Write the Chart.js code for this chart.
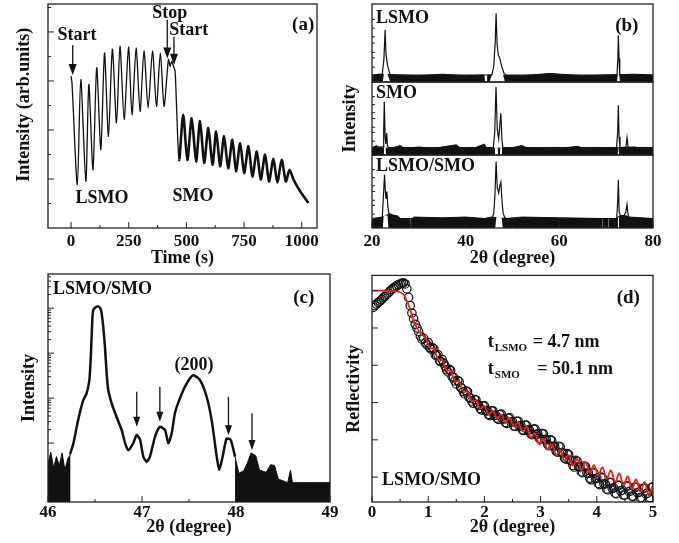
<!DOCTYPE html>
<html>
<head>
<meta charset="utf-8">
<script src="https://cdn.jsdelivr.net/npm/chart.js@4.4.0/dist/chart.umd.min.js"></script>
<style>
  body { margin: 0; background: #fff; width: 679px; height: 543px; position: relative; overflow: hidden; }
  canvas { position: absolute; }
</style>
</head>
<body>
<canvas id="ca" width="340" height="270" style="left:0;top:0"></canvas>
<canvas id="cb1" width="339" height="270" style="left:340px;top:0"></canvas>
<canvas id="cb2" width="339" height="270" style="left:340px;top:0"></canvas>
<canvas id="cb3" width="339" height="270" style="left:340px;top:0"></canvas>
<canvas id="cc" width="340" height="273" style="left:0;top:270px"></canvas>
<canvas id="cd" width="339" height="273" style="left:340px;top:270px"></canvas>
<script>
// (a) RHEED intensity vs time
const timeS = [0, 4, 27, 42, 64, 77, 95, 111, 129, 145, 162, 179, 197, 212, 230, 249, 264, 282, 299, 316,
  334, 353, 370, 387, 403, 422, 429, 436, 444, 451, 468, 486, 504, 523, 542, 559, 577, 595, 613, 629,
  646, 663, 681, 699, 715, 733, 750, 769, 786, 805, 822, 841, 858, 877, 894, 913, 931, 947, 964, 993, 1029];
const rheedInt = [3.10, 2.96, 0.88, 3.03, 0.95, 2.93, 1.19, 3.27, 1.60, 3.57, 1.87, 3.65, 2.14, 3.71, 2.21, 3.69, 2.31, 3.67, 2.38, 3.61,
  2.45, 3.61, 2.48, 3.57, 2.48, 3.44, 3.30, 3.40, 3.30, 3.20, 1.39, 2.31, 1.39, 2.24, 1.36, 2.18, 1.33, 2.04, 1.29, 1.97,
  1.26, 1.87, 1.22, 1.80, 1.16, 1.73, 1.12, 1.67, 1.05, 1.56, 0.99, 1.50, 0.95, 1.41, 0.93, 1.39, 0.95, 1.19, 0.99, 0.75, 0.51];
const timeTicks = [0, 250, 500, 750, 1000];

// (b) wide 2theta scans, three samples (relative height in each strip)
const lsmoTheta = [20, 22.2, 22.55, 22.8, 23.0, 23.3, 23.6, 23.9, 45.6, 46.0, 46.3, 46.5, 46.7, 46.95, 47.3, 47.7, 48.2, 48.6, 72.3, 72.5, 72.6, 72.75, 72.9, 80];
const lsmoInt = [0.09, 0.10, 0.30, 0.67, 0.35, 0.22, 0.15, 0.09, 0.09, 0.20, 0.50, 0.88, 0.50, 0.35, 0.30, 0.20, 0.11, 0.09, 0.09, 0.30, 0.60, 0.30, 0.09, 0.09];
const lsmoClearTheta = [22.28, 22.6, 23.2, 23.9, 30, 45.1, 45.9, 47.7, 48.4, 60, 72.3, 72.5, 72.75, 72.95];
const lsmoClearInt = [0, 0.12, 0.12, 0, null, 0, 0.15, 0.15, 0, null, 0, 0.11, 0.11, 0];
const lsmoFloorTheta = [20, 21.5, 26, 30, 35, 40, 43.9, 44.0, 44.6, 44.7, 52, 58, 65, 70, 76, 80];
const lsmoFloorInt = [0.08, 0.10, 0.09, 0.08, 0.10, 0.08, 0.09, 0, 0, 0.09, 0.08, 0.11, 0.08, 0.09, 0.10, 0.09];

const smoTheta = [20, 22.35, 22.5, 22.63, 22.8, 22.95, 23.13, 23.3, 23.5, 45.9, 46.2, 46.48, 46.75, 47.05, 47.3, 47.52, 47.75, 47.95,
  72.2, 72.45, 72.6, 72.75, 72.95, 74.2, 74.45, 74.7, 80];
const smoInt = [0.10, 0.11, 0.35, 0.73, 0.25, 0.15, 0.30, 0.13, 0.10, 0.10, 0.30, 0.93, 0.35, 0.22, 0.42, 0.57, 0.20, 0.10,
  0.10, 0.30, 0.68, 0.25, 0.10, 0.10, 0.24, 0.10, 0.10];
const smoClearTheta = [22.5, 22.6, 22.9, 23.0, 30, 46.2, 46.35, 46.8, 46.95, 47.1, 47.3, 47.4, 47.7, 47.8, 60, 72.45, 72.55, 72.7, 72.8];
const smoClearInt = [0, 0.12, 0.12, 0, null, 0, 0.12, 0.12, 0, null, 0, 0.12, 0.12, 0, null, 0, 0.12, 0.12, 0];
const smoFloorTheta = [20, 21, 21.6, 24, 26, 27, 30, 33, 38, 39, 42, 44, 44.5, 50, 52, 53, 60, 64, 65, 70, 76, 78, 80];
const smoFloorInt = [0.10, 0.13, 0.10, 0.09, 0.13, 0.09, 0.11, 0.09, 0.14, 0.09, 0.10, 0.15, 0.09, 0.10, 0.13, 0.10, 0.09, 0.12, 0.09, 0.10, 0.11, 0.09, 0.10];

const biTheta = [20, 22.2, 22.45, 22.68, 22.85, 22.98, 23.18, 23.38, 23.6, 24.2, 25.5, 26, 45.6, 46.0, 46.25, 46.5, 46.75, 47.05, 47.3, 47.52, 47.75, 48.0, 48.3, 48.6,
  72.25, 72.45, 72.6, 72.78, 73.1, 73.8, 74.2, 74.45, 74.7, 75.0, 80];
const biInt = [0.13, 0.15, 0.45, 0.73, 0.50, 0.40, 0.50, 0.30, 0.20, 0.18, 0.16, 0.13, 0.13, 0.20, 0.45, 0.91, 0.55, 0.48, 0.58, 0.63, 0.38, 0.20, 0.15, 0.13,
  0.13, 0.35, 0.66, 0.22, 0.16, 0.17, 0.22, 0.32, 0.17, 0.13, 0.13];
const biClearTheta = [22.3, 22.5, 23.3, 23.55, 30, 46.3, 46.6, 47.6, 47.95, 60, 72.4, 72.5, 72.7, 72.8];
const biClearInt = [0, 0.17, 0.17, 0, null, 0, 0.17, 0.17, 0, null, 0, 0.15, 0.15, 0];
const biFloorTheta = [20, 21.3, 22.2, 23.6, 25.5, 26, 28, 28.1, 28.3, 28.4, 29, 35, 40, 44, 45.5, 48.6, 52, 60, 68.9, 69, 69.2, 69.3, 70.2, 70.3, 70.5, 70.6, 72, 73, 74, 75, 80];
const biFloorInt = [0.12, 0.13, 0.15, 0.19, 0.16, 0.12, 0.12, 0, 0, 0.12, 0.15, 0.14, 0.15, 0.13, 0.15, 0.13, 0.15, 0.14, 0.13, 0, 0, 0.13, 0.13, 0, 0, 0.13, 0.13, 0.17, 0.17, 0.15, 0.13];
const wideTicks = [20, 40, 60, 80];

// (c) fine scan around (200); intensities as log10(counts)
const fineTheta = [46.234, 46.27, 46.32, 46.376, 46.41, 46.44, 46.457, 46.471, 46.482, 46.50, 46.535, 46.56, 46.571, 46.588, 46.606, 46.624, 46.641, 46.678, 46.73, 46.784,
  46.82, 46.854, 46.907, 46.944, 46.98, 47.014, 47.05, 47.085, 47.138, 47.19, 47.245, 47.28, 47.316, 47.351, 47.404, 47.476, 47.546, 47.617, 47.688, 47.741,
  47.795, 47.822, 47.858, 47.90, 47.944, 47.99];
const fineLog = [0.75, 0.99, 1.51, 1.96, 2.10, 2.40, 2.99, 3.73, 3.96, 4.01, 4.04, 3.98, 3.88, 3.58, 3.14, 2.55, 2.18, 1.88, 1.58, 1.29,
  1.00, 0.84, 1.00, 1.18, 1.07, 0.70, 0.58, 0.70, 1.14, 1.36, 1.29, 1.00, 1.22, 1.67, 2.00, 2.33, 2.51, 2.40, 2.03, 1.51,
  0.70, 0.40, 0.70, 1.10, 1.07, 0.70];
const noiseTheta = [46.0, 46.03, 46.06, 46.09, 46.12, 46.15, 46.18, 46.21, 46.24, 47.5,
  47.99, 48.03, 48.08, 48.12, 48.16, 48.21, 48.25, 48.32, 48.37, 48.41, 48.45, 48.55, 48.58, 48.60, 48.8, 49.0];
const noiseLog = [0.55, 0.80, 0.45, 0.70, 0.50, 0.78, 0.40, 0.65, 0.75, null,
  0.70, 0.33, 0.38, 0.55, 0.78, 0.72, 0.40, 0.35, 0.52, 0.50, 0.20, 0.12, 0.40, 0.12, 0.12, 0.12];
const fineTicks = [46, 47, 48, 49];
const countDecades = [10, 100, 1000, 10000];

// (d) X-ray reflectivity: measured (circles) and fit (red), log10 scale
const xrrTheta = [0.02, 0.05, 0.08, 0.11, 0.14, 0.17, 0.20, 0.23, 0.26, 0.29, 0.32, 0.35, 0.38, 0.41, 0.44, 0.47, 0.50, 0.53, 0.56, 0.59,
  0.62, 0.65, 0.68, 0.71, 0.74, 0.77, 0.80, 0.83, 0.86, 0.89, 0.92, 0.95, 0.98,
  1.00, 1.05, 1.10, 1.15, 1.20, 1.25, 1.30, 1.35, 1.40, 1.45, 1.50, 1.55, 1.60, 1.65, 1.70, 1.75, 1.80, 1.85, 1.90, 1.95,
  2.00, 2.05, 2.10, 2.15, 2.20, 2.25, 2.30, 2.35, 2.40, 2.45, 2.50, 2.55, 2.60, 2.65, 2.70, 2.75, 2.80, 2.85, 2.90, 2.95,
  3.00, 3.05, 3.10, 3.15, 3.20, 3.25, 3.30, 3.35, 3.40, 3.45, 3.50, 3.55, 3.60, 3.65, 3.70, 3.75, 3.80, 3.85, 3.90, 3.95,
  4.00, 4.05, 4.10, 4.15, 4.20, 4.25, 4.30, 4.35, 4.40, 4.45, 4.50, 4.55, 4.60, 4.65, 4.70, 4.75, 4.80, 4.85, 4.90, 4.95, 5.00];
const xrrLog = [4.55, 4.60, 4.64, 4.68, 4.72, 4.76, 4.81, 4.85, 4.90, 4.94, 4.99, 5.03, 5.07, 5.10, 5.13, 5.16, 5.18, 5.20, 5.21, 5.18,
  5.05, 4.82, 4.60, 4.40, 4.25, 4.10, 4.00, 3.90, 3.78, 3.70, 3.72, 3.60, 3.55,
  3.61, 3.43, 3.44, 3.26, 3.12, 3.15, 2.98, 2.82, 2.86, 2.68, 2.50, 2.56, 2.38, 2.23, 2.29, 2.12, 1.98, 2.07, 1.92, 1.80,
  1.91, 1.78, 1.65, 1.78, 1.66, 1.55, 1.69, 1.56, 1.44, 1.59, 1.49, 1.36, 1.50, 1.38, 1.25, 1.39, 1.27, 1.14, 1.29, 1.16,
  1.02, 1.16, 1.00, 0.84, 0.98, 0.83, 0.67, 0.81, 0.65, 0.48, 0.60, 0.44, 0.27, 0.42, 0.27, 0.12, 0.28, 0.10, -0.07, 0.11,
  -0.03, -0.20, -0.02, -0.18, -0.34, -0.15, -0.29, -0.45, -0.22, -0.35, -0.48, -0.24, -0.37, -0.52, -0.27, -0.40, -0.55, -0.29, -0.43, -0.55, -0.26];
const xrrTheta2 = [1.025, 1.075, 1.125, 1.175, 1.225, 1.275, 1.325, 1.375, 1.425, 1.475, 1.525, 1.575, 1.625, 1.675, 1.725, 1.775, 1.825, 1.875, 1.925, 1.975,
  2.025, 2.075, 2.125, 2.175, 2.225, 2.275, 2.325, 2.375, 2.425, 2.475, 2.525, 2.575, 2.625, 2.675, 2.725, 2.775, 2.825, 2.875, 2.925, 2.975,
  3.025, 3.075, 3.125, 3.175, 3.225, 3.275, 3.325, 3.375, 3.425, 3.475, 3.525, 3.575, 3.625, 3.675, 3.725, 3.775, 3.825, 3.875, 3.925, 3.975,
  4.025, 4.075, 4.125, 4.175, 4.225, 4.275, 4.325, 4.375, 4.425, 4.475, 4.525, 4.575, 4.625, 4.675, 4.725, 4.775, 4.825, 4.875, 4.925, 4.975];
const xrrLog2 = [3.47, 3.47, 3.28, 3.28, 3.10, 3.06, 2.88, 2.89, 2.69, 2.58, 2.59, 2.41, 2.29, 2.31, 2.14, 2.04, 2.08, 1.95, 1.84, 1.91,
  1.78, 1.68, 1.78, 1.65, 1.58, 1.68, 1.56, 1.46, 1.58, 1.47, 1.37, 1.50, 1.37, 1.27, 1.40, 1.26, 1.16, 1.29, 1.15, 1.04,
  1.17, 1.01, 0.88, 1.00, 0.83, 0.70, 0.83, 0.66, 0.51, 0.63, 0.45, 0.31, 0.45, 0.28, 0.14, 0.30, 0.11, -0.03, 0.13, -0.04,
  -0.17, 0.00, -0.18, -0.32, -0.14, -0.30, -0.43, -0.22, -0.37, -0.48, -0.24, -0.39, -0.51, -0.27, -0.42, -0.55, -0.30, -0.45, -0.57, -0.28];
const fitTheta = [0, 0.2, 0.4, 0.48, 0.56, 0.62, 0.68, 0.74, 0.80, 0.86, 0.95, 1.025, 1.10, 1.175, 1.25, 1.325, 1.40, 1.475, 1.55, 1.625,
  1.70, 1.775, 1.85, 1.925, 2.00, 2.075, 2.15, 2.225, 2.30, 2.375, 2.45, 2.525, 2.60, 2.675, 2.75, 2.825, 2.90, 2.975, 3.05, 3.125,
  3.20, 3.275, 3.35, 3.425, 3.50, 3.575, 3.65, 3.725, 3.80, 3.875, 3.95, 4.025, 4.10, 4.175, 4.25, 4.325, 4.40, 4.475, 4.55, 4.625,
  4.70, 4.775, 4.85, 4.925, 5.00];
const fitLog = [5.00, 5.00, 4.99, 4.97, 4.90, 4.72, 4.50, 4.19, 4.01, 3.86, 3.73, 3.47, 3.44, 3.17, 3.14, 2.87, 2.85, 2.57, 2.57, 2.29,
  2.29, 2.02, 2.06, 1.83, 1.91, 1.68, 1.78, 1.57, 1.68, 1.46, 1.59, 1.35, 1.47, 1.23, 1.35, 1.06, 1.17, 0.88, 1.03, 0.75,
  0.88, 0.59, 0.73, 0.43, 0.59, 0.31, 0.49, 0.20, 0.40, 0.12, 0.32, 0.05, 0.26, -0.04, 0.18, -0.13, 0.10, -0.22, 0.02, -0.31,
  -0.06, -0.39, -0.13, -0.48, -0.20];
const xrrTicks = [0, 1, 2, 3, 4, 5];
const xrrDecades = [1, 10, 100, 1000, 10000, 100000];

const SERIF = '"Liberation Serif", "Times New Roman", serif';
Chart.defaults.font.family = SERIF;
Chart.defaults.font.weight = 'bold';
Chart.defaults.font.size = 17;
Chart.defaults.color = '#111';
Chart.defaults.animation = false;

const pts = (xs, ys, f) => xs.map((x, i) => ({ x, y: ys[i] === null ? null : (f ? f(ys[i]) : ys[i]) }));
const pow10 = v => Math.pow(10, v);
const minorLog = decades => decades.flatMap(d => [2, 3, 4, 5, 6, 7, 8, 9].map(k => k * d));

// frame, inward ticks and in-plot labels
const panel = {
  id: 'panel',
  afterDraw(chart, args, o) {
    const { ctx, chartArea: a } = chart;
    const sx = chart.scales.x, sy = chart.scales.y;
    const seg = (x0, y0, x1, y1) => { ctx.beginPath(); ctx.moveTo(x0, y0); ctx.lineTo(x1, y1); ctx.stroke(); };
    ctx.save();
    ctx.strokeStyle = '#222';
    ctx.lineWidth = 1.3;
    ctx.strokeRect(a.left, a.top, a.right - a.left, a.bottom - a.top);
    ctx.lineWidth = 1;
    (o.xMajor || []).forEach(v => { const p = sx.getPixelForValue(v); seg(p, a.bottom, p, a.bottom - 6); });
    (o.xMinor || []).forEach(v => { const p = sx.getPixelForValue(v); seg(p, a.bottom, p, a.bottom - 3); });
    (o.yMajor || []).forEach(v => { const p = sy.getPixelForValue(v); seg(a.left, p, a.left + 6, p); });
    (o.yMinor || []).forEach(v => { const p = sy.getPixelForValue(v); seg(a.left, p, a.left + 3, p); });
    ctx.fillStyle = '#111';
    ctx.textBaseline = 'middle';
    (o.notes || []).forEach(n => {
      const px = sx.getPixelForValue(n.x);
      if (n.kind === 'arrow') {
        const y0 = sy.getPixelForValue(n.y0), y1 = sy.getPixelForValue(n.y1);
        const w = n.w || 8, h = n.h || 11;
        ctx.lineWidth = 1.4;
        seg(px, y0, px, y1 - h + 1);
        ctx.beginPath();
        ctx.moveTo(px - w / 2, y1 - h);
        ctx.lineTo(px + w / 2, y1 - h);
        ctx.lineTo(px, y1);
        ctx.closePath();
        ctx.fill();
      } else if (n.kind === 'sub') {
        const py = sy.getPixelForValue(n.y);
        ctx.textAlign = 'left';
        ctx.font = 'bold 18px ' + SERIF;
        ctx.fillText(n.main, px, py);
        const w = ctx.measureText(n.main).width;
        ctx.font = 'bold 11px ' + SERIF;
        ctx.fillText(n.sub, px + w + 1, py + 6);
        ctx.font = 'bold 18px ' + SERIF;
        ctx.fillText(n.rest, sx.getPixelForValue(n.rx), py);
      } else {
        const py = sy.getPixelForValue(n.y);
        ctx.textAlign = n.align || 'center';
        ctx.font = 'bold ' + (n.size || 18) + 'px ' + SERIF;
        ctx.fillText(n.text, px, py);
      }
    });
    ctx.restore();
  }
};

function xAxis(min, max, ticks, title, h) {
  return {
    type: 'linear', min, max, display: h > 0,
    grid: { display: false, drawTicks: false }, border: { display: false },
    afterBuildTicks: s => { s.ticks = ticks.map(v => ({ value: v })); },
    ticks: { padding: h > 41 ? 3 : 0, maxRotation: 0, autoSkip: false, callback: v => String(v) },
    title: { display: !!title, text: title, font: { size: 18 }, padding: { top: 0, bottom: h > 41 ? 1 : 5 } },
    afterFit: s => { s.height = h; }
  };
}
function yAxis(type, min, max, title, w, pad) {
  return {
    type, min, max,
    grid: { display: false, drawTicks: false }, border: { display: false },
    ticks: { display: false },
    title: { display: !!title, text: title, font: { size: 18 }, padding: { top: pad, bottom: 0 } },
    afterFit: s => { s.width = w; }
  };
}

// (a)
new Chart(document.getElementById('ca'), {
  type: 'line',
  data: { datasets: [{
    data: pts(timeS, rheedInt), borderColor: '#111', borderWidth: 1.3, pointRadius: 0, tension: 0.25,
    segment: { borderWidth: c => c.p0.parsed.x >= 468 ? 2.6 : 1.3 }
  }] },
  options: {
    responsive: false, layout: { padding: { left: 0, top: 4, right: 23, bottom: 0 } },
    scales: { x: xAxis(-100, 1066, timeTicks, 'Time (s)', 42), y: yAxis('linear', 0, 4.57, '     Intensity (arb.units)', 48, 14) },
    plugins: { legend: { display: false }, tooltip: { enabled: false },
      panel: {
        xMajor: timeTicks, xMinor: [125, 375, 625, 875], yMajor: [1, 2, 3, 4], yMinor: [0.5, 1.5, 2.5, 3.5, 4.5],
        notes: [
          { text: 'Start', x: 26, y: 3.94 }, { kind: 'arrow', x: 7, y0: 3.73, y1: 3.12 },
          { text: 'Stop', x: 428, y: 4.38 }, { kind: 'arrow', x: 417, y0: 4.25, y1: 3.46 },
          { text: 'Start', x: 510, y: 4.04 }, { kind: 'arrow', x: 446, y0: 3.90, y1: 3.33 },
          { text: '(a)', x: 1006, y: 4.14, size: 19 },
          { text: 'LSMO', x: 134, y: 0.61 }, { text: 'SMO', x: 529, y: 0.65 }
        ]
      } }
  },
  plugins: [panel]
});

// (b) three strips
function strip(id, th, iv, cth, civ, fth, fiv, pad, xh, yTitle, notes) {
  new Chart(document.getElementById(id), {
    type: 'line',
    data: { datasets: [
      { data: pts(th, iv), borderColor: '#111', borderWidth: 1.2, pointRadius: 0, tension: 0 },
      { data: pts(cth, civ), borderWidth: 0, pointRadius: 0, fill: 'start', backgroundColor: '#fff', tension: 0 },
      { data: pts(fth, fiv), borderColor: '#111', borderWidth: 1, pointRadius: 0, fill: 'start', backgroundColor: '#111', tension: 0 }
    ] },
    options: {
      responsive: false, layout: { padding: { left: 0, top: pad[0], right: 26, bottom: pad[1] } },
      scales: { x: xAxis(20, 80, wideTicks, xh ? '2\u03b8 (degree)' : '', xh), y: yAxis('linear', 0, 1, yTitle, 32, 0) },
      plugins: { legend: { display: false }, tooltip: { enabled: false },
        panel: { xMajor: xh ? wideTicks : [], xMinor: xh ? [30, 50, 70] : [], yMinor: [0.19, 0.31, 0.38, 0.5, 0.58, 0.69, 0.8], notes } }
    },
    plugins: [panel]
  });
}
strip('cb1', lsmoTheta, lsmoInt, lsmoClearTheta, lsmoClearInt, lsmoFloorTheta, lsmoFloorInt, [4, 188], 0, '',
  [{ text: 'LSMO', x: 20.85, y: 0.81, align: 'left' }, { text: '(b)', x: 74.4, y: 0.72, size: 19 }]);
strip('cb2', smoTheta, smoInt, smoClearTheta, smoClearInt, smoFloorTheta, smoFloorInt, [82, 115], 0, 'Intensity',
  [{ text: 'SMO', x: 20.85, y: 0.84, align: 'left' }]);
strip('cb3', biTheta, biInt, biClearTheta, biClearInt, biFloorTheta, biFloorInt, [155, 0], 42, '',
  [{ text: 'LSMO/SMO', x: 20.85, y: 0.84, align: 'left' }]);

// (c)
new Chart(document.getElementById('cc'), {
  type: 'line',
  data: { datasets: [
    { data: pts(fineTheta, fineLog, pow10), borderColor: '#111', borderWidth: 2.5, pointRadius: 0, tension: 0.2 },
    { data: pts(noiseTheta, noiseLog, pow10), borderColor: '#111', borderWidth: 1, pointRadius: 0, fill: 'start', backgroundColor: '#111', tension: 0 }
  ] },
  options: {
    responsive: false, layout: { padding: { left: 0, top: 4, right: 10, bottom: 0 } },
    scales: { x: xAxis(46, 49, fineTicks, '2\u03b8 (degree)', 41), y: yAxis('logarithmic', pow10(-0.31), pow10(4.76), 'Intensity', 48, 19) },
    plugins: { legend: { display: false }, tooltip: { enabled: false },
      panel: {
        xMajor: fineTicks, xMinor: [46.5, 47.5, 48.5], yMajor: countDecades, yMinor: minorLog(countDecades).filter(v => v < 57000),
        notes: [
          { text: 'LSMO/SMO', x: 46.053, y: 25700, align: 'left' },
          { text: '(c)', x: 48.72, y: 17000, size: 19 },
          { text: '(200)', x: 47.553, y: 525 },
          { kind: 'arrow', x: 46.944, y0: 138, y1: 23, w: 7, h: 10 },
          { kind: 'arrow', x: 47.19, y0: 178, y1: 30, w: 7, h: 10 },
          { kind: 'arrow', x: 47.92, y0: 107, y1: 15, w: 7, h: 10 },
          { kind: 'arrow', x: 48.17, y0: 46, y1: 7, w: 7, h: 10 }
        ]
      } }
  },
  plugins: [panel]
});

// (d)
const circleStyle = { showLine: false, pointRadius: 4.2, pointBorderWidth: 1.2, pointBorderColor: '#111', pointBackgroundColor: 'rgba(255,255,255,0)' };
new Chart(document.getElementById('cd'), {
  type: 'line',
  data: { datasets: [
    { data: pts(fitTheta, fitLog, pow10), borderColor: '#e8231c', borderWidth: 1.8, pointRadius: 0, tension: 0.4 },
    { data: pts(xrrTheta, xrrLog, pow10), ...circleStyle },
    { data: pts(xrrTheta2, xrrLog2, pow10), ...circleStyle }
  ] },
  options: {
    responsive: false, layout: { padding: { left: 0, top: 4, right: 26, bottom: 0 } },
    scales: { x: xAxis(0, 5, xrrTicks, '2\u03b8 (degree)', 41), y: yAxis('logarithmic', pow10(-0.667), pow10(5.41), 'Reflectivity', 32, 4) },
    plugins: { legend: { display: false }, tooltip: { enabled: false },
      panel: {
        xMajor: xrrTicks, xMinor: [0.5, 1.5, 2.5, 3.5, 4.5], yMajor: xrrDecades,
        notes: [
          { text: '(d)', x: 4.56, y: 61600, size: 19 },
          { kind: 'sub', x: 2.06, y: 4070, main: 't', sub: 'LSMO', rest: '= 4.7 nm', rx: 2.86 },
          { kind: 'sub', x: 2.06, y: 794, main: 't', sub: 'SMO', rest: '= 50.1 nm', rx: 2.94 },
          { text: 'LSMO/SMO', x: 0.18, y: 0.83, align: 'left' }
        ]
      } }
  },
  plugins: [panel]
});
</script>
</body>
</html>
